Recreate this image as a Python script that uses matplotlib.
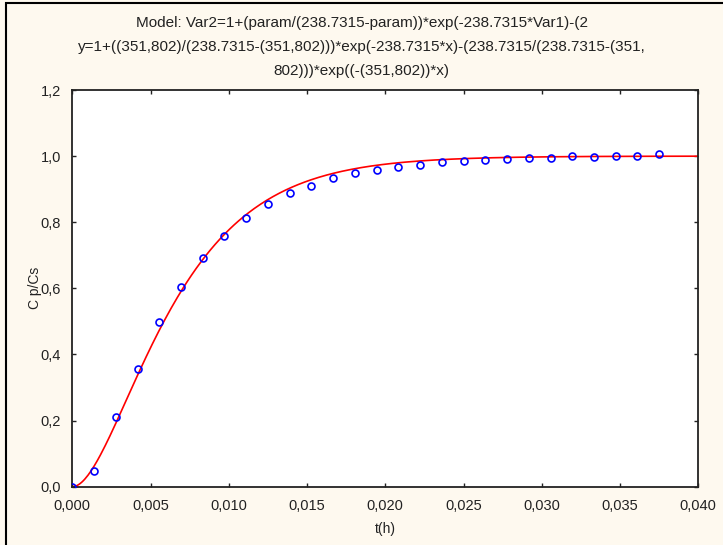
import numpy as np
import matplotlib
matplotlib.use("Agg")
import matplotlib.pyplot as plt
from matplotlib.ticker import FuncFormatter

# ---- data ----
t_h = [0.0, 0.00139, 0.00278, 0.00417, 0.00556, 0.00694, 0.00833, 0.00972,
       0.01111, 0.01250, 0.01389, 0.01528, 0.01667, 0.01806, 0.01944, 0.02083,
       0.02222, 0.02361, 0.02500, 0.02639, 0.02778, 0.02917, 0.03056, 0.03194,
       0.03333, 0.03472, 0.03611, 0.03750]
cp_cs = [0.0, 0.047, 0.210, 0.356, 0.497, 0.605, 0.691, 0.759,
         0.812, 0.855, 0.887, 0.909, 0.933, 0.948, 0.958, 0.968,
         0.974, 0.981, 0.985, 0.989, 0.990, 0.994, 0.994, 1.000,
         0.998, 1.000, 1.000, 1.005]
k1 = 238.7315
k2 = 351.802
x_ticks = [0.000, 0.005, 0.010, 0.015, 0.020, 0.025, 0.030, 0.035, 0.040]
y_ticks = [0.0, 0.2, 0.4, 0.6, 0.8, 1.0, 1.2]
title_lines = [
    "Model: Var2=1+(param/(238.7315-param))*exp(-238.7315*Var1)-(2",
    "y=1+((351,802)/(238.7315-(351,802)))*exp(-238.7315*x)-(238.7315/(238.7315-(351,",
    "802)))*exp((-(351,802))*x)",
]
x_label = "t(h)"
y_label = "C p/Cs"

plt.rcParams['font.family'] = ['Liberation Sans', 'DejaVu Sans']
bg = '#FEF9EF'
fig = plt.figure(figsize=(7.23, 5.45), dpi=100, facecolor=bg)

# outer frame (left + top visible)
fig.add_artist(plt.Rectangle((5.5/723, -0.1), 1.2, 1.1 - 3/545, transform=fig.transFigure,
                             fill=False, edgecolor='black', linewidth=1.5, clip_on=False))

ax = fig.add_axes([72.3/723, 1 - 486.7/545, (698.3 - 72.3)/723, (486.7 - 90)/545])
ax.set_facecolor('white')

xx = np.linspace(0, 0.04, 400)
model = 1 + (k2/(k1 - k2))*np.exp(-k1*xx) - (k1/(k1 - k2))*np.exp(-k2*xx)
ax.plot(xx, model, color='red', lw=1.2, zorder=2)
ax.plot(t_h, cp_cs, linestyle='none', marker='o', ms=5, mfc='none',
        mec='blue', mew=1.2, zorder=3, clip_on=True)

ax.set_xlim(0, 0.04)
ax.set_ylim(0, 1.2)
ax.set_xticks(x_ticks)
ax.set_yticks(y_ticks)
ax.xaxis.set_major_formatter(FuncFormatter(lambda v, p: f"{v:.3f}".replace('.', ',')))
ax.yaxis.set_major_formatter(FuncFormatter(lambda v, p: f"{v:.1f}".replace('.', ',')))
ax.tick_params(direction='in', length=3, width=1, top=True, right=True,
               labelsize=10.5, colors='#222222', pad=8)
ax.tick_params(axis='x', pad=9)
for s in ax.spines.values():
    s.set_linewidth(1.3)
    s.set_color('#222222')

ax.set_xlabel(x_label, fontsize=10, color='#222222', labelpad=6)
ax.set_ylabel(y_label, fontsize=10, color='#222222', labelpad=-1)

for i, line in enumerate(title_lines):
    fig.text(0.5, 1 - (23 + 24*i)/545, line, ha='center', va='center',
             fontsize=11, color='#222222')

fig.savefig("out.png", dpi=100, facecolor=bg)
